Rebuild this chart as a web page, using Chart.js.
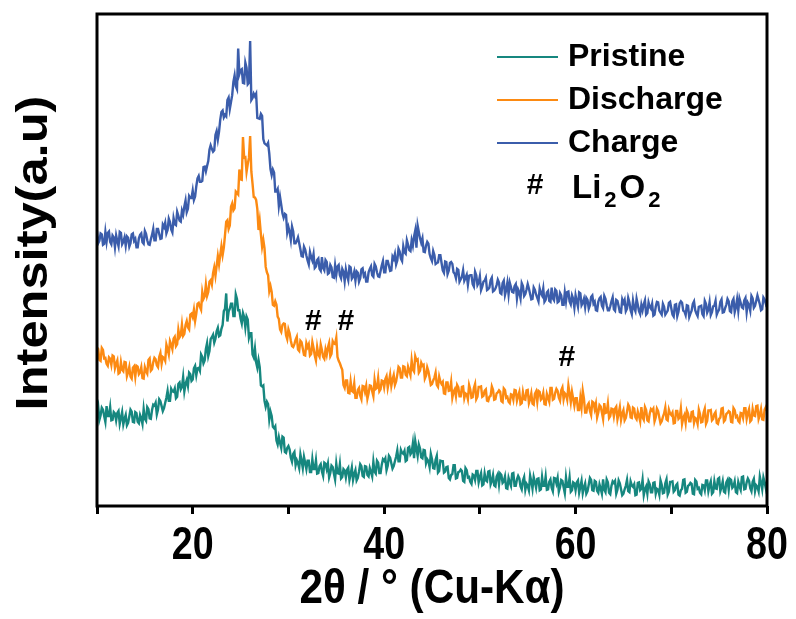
<!DOCTYPE html>
<html lang="en">
<head>
<meta charset="UTF-8">
<title>XRD patterns - Pristine / Discharge / Charge</title>
<script src="https://cdn.jsdelivr.net/npm/chart.js"></script>
<style>
  body { margin: 0; background: #fff; }
  #wrap { width: 796px; height: 619px; }
</style>
</head>
<body>
<div id="wrap"><canvas id="xrd" width="796" height="619"></canvas></div>
<script>
// scan grid: 2θ from 10° to 80°, 0.125° per step
const scanStart = 10;
const scanStep = 0.125;

const seriesNames = ['Pristine', 'Discharge', 'Charge'];
const seriesColors = ['#16877f', '#fc8a12', '#3b5dab'];

// intensities are offset-stacked (a.u.), one row of eight per degree
const pristine = [
  19.3, 20.3, 17.5, 18.4, 20.0, 19.6, 18.3, 17.1,
  20.3, 18.3, 18.3, 20.1, 17.4, 17.5, 19.1, 18.8,
  17.4, 18.9, 19.3, 16.7, 17.9, 19.1, 16.6, 17.7,
  18.5, 16.4, 16.9, 18.2, 19.6, 19.2, 17.1, 17.0,
  19.1, 18.9, 17.1, 16.8, 18.5, 17.8, 16.7, 19.7,
  17.7, 17.3, 20.1, 19.7, 17.8, 17.7, 19.5, 20.6,
  20.4, 21.0, 18.6, 19.6, 21.7, 21.3, 20.3, 19.3,
  19.9, 21.0, 22.0, 23.4, 21.4, 21.4, 23.8, 23.3,
  23.2, 23.9, 21.9, 22.2, 24.8, 25.1, 23.7, 24.2,
  26.2, 23.3, 24.8, 25.6, 24.4, 27.1, 26.8, 25.4,
  25.7, 28.0, 28.5, 26.6, 28.0, 28.1, 27.5, 30.8,
  30.3, 29.0, 29.6, 31.9, 33.1, 30.5, 31.5, 33.9,
  34.3, 34.8, 33.2, 34.0, 35.5, 36.2, 34.5, 34.7,
  36.0, 36.8, 39.6, 40.1, 43.2, 37.5, 39.5, 40.1,
  41.1, 41.1, 38.6, 38.6, 43.0, 42.1, 39.8, 39.8,
  38.1, 37.1, 39.2, 38.4, 36.3, 38.5, 37.9, 34.2,
  35.1, 35.1, 30.8, 30.2, 32.0, 29.2, 28.1, 29.7,
  28.2, 24.5, 24.3, 24.5, 21.4, 20.2, 21.2, 20.7,
  17.6, 19.2, 18.3, 16.1, 15.8, 16.2, 13.3, 12.5,
  14.0, 12.8, 11.8, 14.1, 13.9, 11.0, 10.8, 11.8,
  12.2, 11.5, 9.8, 9.0, 10.6, 11.0, 8.3, 9.3,
  8.7, 7.7, 10.5, 9.2, 7.7, 10.0, 8.8, 7.5,
  9.2, 9.2, 6.9, 6.9, 9.5, 7.5, 7.5, 9.3,
  6.6, 6.7, 8.1, 8.5, 7.0, 6.1, 8.8, 8.6,
  7.5, 8.6, 5.8, 6.7, 8.2, 7.9, 6.6, 5.4,
  8.6, 6.7, 6.6, 8.5, 5.6, 5.9, 7.5, 7.2,
  5.8, 7.4, 7.8, 5.3, 6.5, 7.8, 5.3, 6.5,
  7.3, 5.2, 5.7, 7.0, 8.5, 8.1, 6.1, 5.9,
  8.1, 8.0, 6.3, 6.0, 7.7, 6.9, 6.0, 9.0,
  7.0, 6.6, 9.2, 8.8, 6.7, 6.7, 8.4, 9.5,
  9.2, 9.7, 7.3, 8.2, 10.2, 9.8, 8.7, 7.6,
  8.1, 9.1, 10.0, 11.3, 9.1, 9.1, 11.4, 10.8,
  10.6, 11.2, 9.1, 9.3, 11.8, 12.0, 10.5, 10.9,
  12.7, 9.7, 13.2, 11.7, 10.2, 12.5, 11.7, 9.9,
  9.7, 11.4, 11.3, 8.7, 9.5, 9.1, 7.9, 10.6,
  9.5, 7.7, 7.6, 9.4, 10.2, 6.8, 7.1, 9.2,
  9.1, 9.1, 6.8, 7.0, 7.9, 8.0, 5.7, 5.4,
  6.3, 6.5, 8.3, 8.3, 5.6, 5.7, 6.9, 7.0,
  7.4, 7.1, 5.1, 4.9, 7.7, 7.3, 5.8, 5.9,
  4.9, 4.5, 6.4, 6.2, 5.3, 7.1, 7.1, 4.8,
  5.9, 6.7, 4.2, 4.4, 6.6, 5.2, 5.0, 7.0,
  7.1, 4.4, 5.1, 6.3, 4.2, 4.0, 6.0, 6.5,
  4.4, 6.6, 6.3, 4.7, 5.0, 6.0, 3.6, 3.5,
  5.7, 4.8, 4.1, 6.6, 6.7, 4.1, 4.1, 5.4,
  6.1, 5.6, 4.0, 3.4, 5.2, 5.9, 3.3, 4.5,
  4.1, 3.2, 6.2, 5.0, 3.5, 5.9, 4.9, 3.7,
  5.5, 5.6, 3.2, 3.4, 5.9, 4.1, 4.1, 6.0,
  3.3, 3.4, 4.9, 5.4, 3.7, 3.0, 5.7, 5.6,
  4.6, 5.7, 2.9, 3.8, 5.3, 5.1, 3.8, 2.6,
  5.8, 3.9, 3.9, 5.8, 2.9, 3.2, 4.8, 4.6,
  3.2, 4.8, 5.2, 2.7, 3.9, 5.1, 2.6, 3.8,
  4.6, 2.5, 3.0, 4.3, 5.7, 5.3, 3.2, 3.1,
  5.1, 4.9, 3.1, 2.7, 4.4, 3.5, 2.5, 5.4,
  3.3, 2.8, 5.4, 4.8, 2.7, 2.4, 4.1, 5.0,
  4.7, 5.1, 2.5, 3.3, 5.2, 4.6, 3.4, 2.2,
  2.5, 3.4, 4.1, 5.3, 3.0, 2.8, 5.0, 4.2,
  3.9, 4.4, 2.2, 2.3, 4.7, 4.8, 3.2, 3.5,
  5.3, 2.2, 3.4, 4.0, 2.5, 5.0, 4.4, 2.8,
  2.8, 4.7, 4.8, 2.5, 3.5, 3.3, 2.3, 5.2,
  4.3, 2.6, 2.7, 4.6, 5.4, 2.3, 2.9, 4.9,
  4.9, 5.0, 2.9, 3.2, 4.2, 4.5, 2.3, 2.1,
  3.2, 3.5, 5.3, 5.4, 2.7, 2.9, 4.1, 4.3,
  4.7, 4.5, 2.5, 2.4, 5.3, 5.0, 3.5, 3.7,
  2.7, 2.4, 4.3, 4.2, 3.2, 5.2, 5.2, 3.0,
  4.2, 5.0, 2.5, 2.8, 5.0, 3.6, 3.5, 5.5,
  5.7, 3.0, 3.8, 5.0, 2.9, 2.7, 4.8, 5.3,
  3.3, 5.5, 5.3, 3.7, 4.0, 5.0, 2.8, 2.6,
  4.9, 4.0, 3.3, 5.9, 6.0, 3.4, 3.5, 4.8,
  5.6, 5.1, 3.6, 3.0, 4.9, 5.5, 3.0, 4.2,
  3.9, 3.0, 6.0, 4.8, 3.4, 5.8, 4.8, 3.6,
  4.9
];

const discharge = [
  32.2, 31.9, 29.7, 29.5, 32.1, 31.7, 30.0, 30.1,
  28.9, 28.5, 30.2, 29.9, 28.7, 30.6, 30.4, 28.0,
  28.9, 29.6, 26.9, 27.1, 29.2, 27.7, 27.4, 29.3,
  29.2, 26.4, 27.2, 28.3, 26.3, 25.9, 28.1, 28.4,
  26.3, 28.5, 28.3, 26.8, 27.2, 28.2, 26.0, 25.9,
  28.2, 27.4, 26.9, 29.7, 30.0, 27.5, 27.8, 29.2,
  30.1, 29.8, 28.6, 28.2, 30.3, 31.1, 28.9, 30.3,
  30.1, 29.5, 32.8, 31.9, 30.8, 33.5, 32.8, 31.9,
  34.0, 34.4, 32.5, 32.9, 35.8, 34.3, 34.7, 36.9,
  34.6, 35.0, 36.8, 37.6, 36.3, 35.9, 38.9, 39.1,
  38.4, 39.9, 37.6, 39.1, 41.1, 41.3, 40.5, 39.9,
  43.5, 42.1, 42.6, 45.0, 42.7, 43.5, 45.6, 45.9,
  45.0, 47.3, 48.5, 46.8, 48.8, 50.8, 49.1, 51.0,
  52.8, 51.0, 52.5, 55.1, 57.8, 58.1, 56.3, 57.0,
  60.8, 61.5, 60.1, 60.5, 63.9, 63.6, 63.3, 68.4,
  66.4, 66.3, 75.0, 70.8, 70.9, 67.9, 69.5, 70.8,
  75.2, 68.0, 65.5, 62.8, 62.7, 62.2, 60.4, 56.1,
  58.0, 55.2, 52.7, 54.1, 52.4, 48.6, 47.5, 46.9,
  43.7, 44.7, 43.5, 40.9, 40.7, 41.6, 40.9, 38.5,
  38.0, 35.9, 35.4, 36.8, 37.1, 37.0, 34.7, 33.9,
  35.9, 35.1, 33.6, 32.5, 32.3, 32.9, 33.8, 34.4,
  31.8, 31.5, 33.6, 33.3, 32.0, 30.7, 30.6, 33.1,
  32.3, 32.9, 30.6, 30.9, 33.3, 32.1, 30.6, 29.6,
  32.3, 30.8, 30.3, 32.8, 31.7, 30.3, 29.9, 31.8,
  30.7, 32.2, 33.1, 30.4, 30.9, 33.5, 33.0, 32.9,
  34.2, 30.3, 29.5, 29.0, 28.3, 27.7, 24.6, 24.0,
  25.5, 25.5, 23.0, 22.9, 25.3, 23.4, 23.2, 24.9,
  22.0, 22.0, 23.6, 24.0, 22.4, 21.7, 24.4, 24.3,
  23.2, 24.4, 21.8, 22.9, 24.5, 24.4, 23.3, 22.3,
  25.6, 23.8, 24.0, 26.0, 23.3, 23.7, 25.5, 25.4,
  24.1, 25.8, 26.4, 24.0, 25.3, 26.7, 24.4, 25.7,
  26.6, 24.6, 25.3, 26.7, 28.3, 28.0, 26.1, 26.1,
  28.4, 28.3, 26.7, 26.4, 28.3, 27.5, 26.6, 29.6,
  27.7, 27.3, 30.4, 29.6, 29.8, 27.1, 27.5, 29.1,
  28.5, 28.7, 25.9, 26.5, 28.2, 27.4, 26.0, 24.6,
  24.8, 25.5, 26.1, 27.1, 24.6, 24.2, 26.3, 25.3,
  24.8, 25.2, 22.9, 22.8, 25.1, 25.1, 23.4, 23.5,
  25.2, 22.0, 23.2, 23.7, 22.3, 24.6, 24.1, 22.3,
  22.3, 24.2, 24.3, 21.9, 22.9, 22.7, 21.7, 24.6,
  23.7, 22.0, 22.1, 24.0, 24.8, 21.7, 22.2, 24.2,
  24.2, 24.3, 22.2, 22.4, 23.4, 23.7, 21.4, 21.3,
  22.2, 22.4, 24.3, 23.6, 21.6, 21.7, 22.9, 23.1,
  23.5, 23.2, 21.3, 21.1, 23.9, 23.6, 22.0, 22.2,
  21.2, 20.9, 22.7, 22.6, 21.6, 23.6, 23.5, 21.4,
  22.4, 23.2, 20.7, 20.9, 23.1, 21.7, 21.6, 23.5,
  23.6, 20.9, 21.7, 22.9, 20.8, 20.6, 22.8, 23.3,
  21.2, 23.4, 23.2, 21.6, 21.9, 23.0, 20.7, 20.6,
  22.8, 22.0, 21.2, 24.0, 24.0, 21.6, 21.8, 23.0,
  23.8, 23.4, 22.0, 21.4, 23.5, 24.1, 21.7, 22.9,
  22.6, 21.6, 24.5, 22.9, 21.1, 23.2, 21.8, 20.4,
  21.9, 21.9, 19.5, 19.5, 22.0, 20.1, 23.4, 21.8,
  19.0, 19.0, 20.5, 20.9, 19.3, 18.5, 21.2, 21.0,
  19.7, 20.8, 18.0, 19.0, 20.5, 20.2, 19.0, 17.7,
  20.9, 18.9, 19.0, 20.8, 17.9, 18.3, 19.8, 19.7,
  18.2, 19.8, 20.2, 17.6, 18.8, 20.1, 17.5, 18.8,
  19.5, 17.4, 17.9, 19.2, 20.6, 20.1, 18.0, 17.9,
  20.0, 19.8, 18.0, 17.6, 19.2, 18.3, 17.2, 20.1,
  18.0, 17.5, 20.1, 19.5, 17.4, 17.2, 18.8, 19.7,
  19.4, 19.8, 17.2, 18.0, 19.8, 19.3, 18.0, 16.8,
  17.2, 18.1, 18.8, 20.0, 17.6, 17.4, 19.6, 18.8,
  18.5, 19.0, 16.8, 16.9, 19.3, 19.3, 17.7, 18.0,
  19.8, 16.7, 17.9, 18.5, 16.9, 19.4, 18.8, 17.2,
  17.2, 19.1, 19.2, 16.9, 17.9, 17.7, 16.7, 19.6,
  18.7, 17.0, 17.1, 19.0, 19.8, 16.7, 17.3, 19.4,
  19.4, 19.5, 17.4, 17.7, 18.7, 19.1, 16.9, 16.7,
  17.7, 18.0, 19.8, 19.9, 17.2, 17.5, 18.7, 18.9,
  19.3, 19.1, 17.1, 17.0, 19.9, 19.5, 18.1, 18.3,
  17.3, 17.0, 18.9, 18.8, 17.9, 19.9, 19.9, 17.7,
  18.9, 19.7, 17.2, 17.5, 19.7, 18.4, 18.3, 20.3,
  20.4, 17.7, 18.5, 19.7, 17.6, 17.5, 19.6, 20.1,
  19.4
];

const charge = [
  55.9, 53.4, 53.9, 55.4, 55.2, 53.1, 53.3, 55.7,
  53.7, 55.5, 55.8, 53.7, 53.2, 55.0, 54.6, 52.6,
  55.0, 53.8, 52.8, 55.7, 55.5, 53.2, 53.7, 54.6,
  52.9, 54.8, 54.5, 52.7, 53.4, 55.2, 55.4, 53.9,
  54.3, 52.6, 52.6, 54.4, 55.1, 55.4, 53.6, 53.3,
  55.9, 55.3, 54.0, 53.2, 53.1, 54.2, 55.1, 56.3,
  54.0, 54.0, 56.3, 56.3, 55.3, 54.3, 54.4, 57.2,
  56.7, 57.6, 55.4, 56.1, 58.4, 57.7, 56.2, 55.6,
  58.5, 57.3, 57.1, 59.8, 59.0, 58.0, 57.8, 60.0,
  59.2, 60.9, 62.1, 59.7, 60.4, 63.0, 62.6, 62.6,
  64.1, 62.2, 62.9, 65.0, 66.6, 67.1, 65.9, 65.9,
  66.1, 68.9, 69.0, 68.0, 69.1, 70.1, 72.4, 73.3,
  72.6, 72.0, 72.3, 75.4, 76.2, 74.5, 76.1, 78.5,
  80.1, 80.4, 79.0, 79.5, 79.2, 82.5, 83.0, 80.7,
  82.1, 83.5, 86.2, 87.5, 85.3, 84.7, 93.0, 87.8,
  88.6, 88.8, 86.0, 85.9, 90.1, 89.1, 85.7, 86.0,
  94.5, 82.5, 82.9, 83.8, 83.3, 83.8, 78.9, 78.8,
  78.7, 79.7, 79.3, 74.6, 73.7, 73.5, 73.3, 73.8,
  71.6, 68.5, 67.3, 68.4, 67.8, 63.9, 63.9, 64.4,
  61.0, 62.8, 61.2, 59.5, 58.6, 59.4, 59.2, 55.6,
  56.7, 55.7, 54.1, 56.8, 55.8, 53.4, 53.4, 53.9,
  54.6, 53.4, 52.2, 50.8, 50.7, 52.7, 52.1, 50.9,
  49.9, 49.1, 51.6, 50.6, 49.9, 51.2, 48.4, 48.7,
  50.0, 50.3, 48.2, 47.8, 50.6, 48.4, 47.9, 50.0,
  49.6, 47.2, 47.4, 49.0, 48.5, 46.5, 46.4, 48.9,
  47.0, 48.7, 49.0, 46.9, 46.3, 48.2, 47.6, 45.7,
  48.1, 46.8, 45.9, 48.7, 48.5, 46.2, 46.6, 47.6,
  45.8, 47.7, 47.4, 45.6, 46.3, 48.1, 48.3, 46.8,
  47.2, 45.6, 45.6, 47.5, 48.2, 48.7, 46.9, 46.6,
  49.2, 48.7, 47.5, 46.7, 46.6, 47.7, 48.9, 49.8,
  47.5, 47.5, 49.8, 49.8, 48.8, 47.8, 47.9, 50.7,
  50.2, 51.2, 49.1, 49.9, 52.3, 51.7, 50.3, 49.8,
  52.8, 51.6, 51.3, 54.0, 53.1, 52.0, 51.8, 54.0,
  52.9, 54.8, 56.0, 52.5, 57.0, 55.7, 54.4, 53.5,
  54.4, 51.7, 51.6, 52.9, 53.7, 53.3, 51.2, 50.4,
  49.8, 51.8, 51.0, 49.2, 49.4, 49.5, 51.0, 51.0,
  49.4, 47.9, 47.4, 49.7, 49.6, 47.1, 47.8, 49.4,
  49.6, 49.2, 47.5, 47.2, 46.3, 48.2, 48.0, 45.6,
  46.1, 46.6, 47.9, 45.8, 46.4, 47.0, 45.0, 46.8,
  46.9, 46.9, 45.1, 44.6, 47.6, 46.9, 44.9, 45.4,
  46.7, 43.9, 44.6, 45.6, 45.8, 46.4, 43.9, 44.1,
  44.4, 45.9, 46.4, 43.6, 43.8, 44.2, 44.9, 46.0,
  45.4, 43.3, 43.1, 45.3, 45.8, 42.9, 43.9, 45.4,
  43.0, 45.4, 44.5, 43.5, 43.4, 44.7, 45.1, 42.2,
  44.0, 43.4, 42.2, 45.3, 44.7, 42.7, 43.1, 44.0,
  45.1, 44.2, 43.1, 42.0, 42.1, 44.4, 43.9, 43.0,
  42.3, 41.6, 44.2, 43.3, 42.8, 44.2, 41.5, 41.9,
  43.4, 43.7, 41.7, 41.5, 44.4, 42.2, 41.8, 44.0,
  43.7, 41.4, 41.6, 43.3, 42.8, 40.9, 40.9, 43.4,
  41.6, 43.5, 43.6, 41.6, 41.0, 42.8, 42.1, 40.3,
  42.8, 41.6, 40.5, 43.4, 43.2, 40.8, 41.3, 42.1,
  40.4, 42.3, 41.9, 40.1, 40.8, 42.5, 42.8, 41.1,
  41.5, 39.8, 39.7, 41.5, 42.2, 42.5, 40.7, 40.2,
  42.7, 42.1, 40.8, 39.8, 39.8, 40.6, 41.6, 42.4,
  40.0, 39.7, 41.9, 41.7, 40.6, 39.4, 39.3, 42.0,
  41.3, 41.9, 39.6, 40.1, 42.3, 41.4, 39.8, 39.0,
  41.7, 40.2, 39.6, 42.1, 40.9, 39.6, 39.0, 40.9,
  39.8, 41.0, 41.8, 38.9, 39.2, 41.4, 40.5, 40.1,
  41.1, 38.7, 38.9, 40.5, 41.5, 41.4, 39.7, 39.3,
  38.9, 41.1, 40.5, 38.9, 39.3, 39.7, 41.3, 41.5,
  40.2, 38.9, 38.5, 40.9, 41.0, 38.6, 39.5, 41.2,
  41.6, 41.3, 39.7, 39.5, 38.8, 40.8, 40.7, 38.4,
  39.1, 39.7, 41.1, 41.6, 39.8, 39.1, 38.6, 40.5,
  40.6, 40.7, 39.0, 38.6, 41.7, 41.1, 39.3, 39.9,
  41.4, 38.8, 39.4, 40.6, 40.7, 41.7, 38.9, 39.5,
  39.9, 41.5, 42.0, 39.3, 39.4, 40.2, 40.9, 42.1,
  41.6, 39.6, 39.4, 41.6, 42.1, 39.4, 40.4, 42.0,
  39.7, 42.2, 41.3, 40.4, 40.2, 41.8, 42.3, 39.4,
  41.3, 40.8, 39.7, 42.7, 42.2, 40.3, 40.7, 41.7,
  42.8, 41.9, 41.0, 39.8, 40.0, 42.4, 42.0, 41.1,
  41.8
];

// Li2O2 reflections marked with '#'
const li2o2Angles = [32.6, 36.0, 59.1];
const li2o2Levels = [37.4, 37.4, 30.1];

const xTicks = [10, 20, 30, 40, 50, 60, 70, 80];
const xTickLabels = [20, 40, 60, 80];

const face = "'Liberation Sans', Arial, sans-serif";

function toPoints(values) {
  return values.map((v, i) => ({ x: scanStart + i * scanStep, y: v }));
}

const seriesValues = [pristine, discharge, charge];
const datasets = seriesNames.map((name, i) => ({
  label: name,
  data: toPoints(seriesValues[i]),
  borderColor: seriesColors[i],
  borderWidth: 2.4,
  pointRadius: 0,
  tension: 0,
  fill: false
}));

// squeezed bold text, like the Arial Narrow labels of the original plot
function narrowText(ctx, text, x, y, size, squeeze, rotate) {
  ctx.save();
  ctx.translate(x, y);
  if (rotate) ctx.rotate(-Math.PI / 2);
  ctx.scale(squeeze, 1);
  ctx.font = 'bold ' + size + 'px ' + face;
  ctx.fillText(text, 0, 0);
  ctx.restore();
}

// black box round the plot area
const framePlugin = {
  id: 'frame',
  afterDatasetsDraw(chart) {
    const { ctx, chartArea: a } = chart;
    ctx.save();
    ctx.strokeStyle = '#000';
    ctx.lineWidth = 3;
    ctx.strokeRect(a.left, a.top, a.right - a.left, a.bottom - a.top);
    ctx.restore();
  }
};

// axis text, '#' marks over the Li2O2 peaks and the legend block
const notesPlugin = {
  id: 'notes',
  afterDraw(chart) {
    const { ctx, scales, chartArea: a } = chart;
    ctx.save();
    ctx.fillStyle = '#000';
    ctx.textAlign = 'center';
    ctx.textBaseline = 'middle';

    xTickLabels.forEach(v => {
      narrowText(ctx, String(v), scales.x.getPixelForValue(v), 546, 47, 0.8, false);
    });
    narrowText(ctx, '2θ / ° (Cu-Kα)', (a.left + a.right) / 2, 590, 48, 0.88, false);
    narrowText(ctx, 'Intensity(a.u)', 35, 253, 44, 1.15, true);

    ctx.font = 'bold 30px ' + face;
    li2o2Angles.forEach((ang, i) => {
      ctx.fillText('#', scales.x.getPixelForValue(ang), scales.y.getPixelForValue(li2o2Levels[i]));
    });

    ctx.textAlign = 'left';
    ctx.font = 'bold 32px ' + face;
    chart.data.datasets.forEach((ds, i) => {
      const y = 57 + i * 43;
      ctx.strokeStyle = ds.borderColor;
      ctx.lineWidth = 2;
      ctx.beginPath();
      ctx.moveTo(497, y);
      ctx.lineTo(558, y);
      ctx.stroke();
      ctx.fillText(ds.label, 568, y);
    });

    const ly = 186;
    ctx.textAlign = 'center';
    ctx.font = 'bold 30px ' + face;
    ctx.fillText('#', 535, ly);
    ctx.textAlign = 'left';
    ctx.textBaseline = 'alphabetic';
    let x = 572;
    const base = ly + 12;
    const parts = [['Li', 33, 0], ['2', 22, 9], ['O', 33, 0], ['2', 22, 9]];
    parts.forEach(([t, size, drop]) => {
      ctx.font = 'bold ' + size + 'px ' + face;
      ctx.fillText(t, x, base + drop);
      x += ctx.measureText(t).width + 3;
    });
    ctx.restore();
  }
};

const ctx = document.getElementById('xrd').getContext('2d');
new Chart(ctx, {
  type: 'line',
  data: { datasets },
  plugins: [framePlugin, notesPlugin],
  options: {
    responsive: false,
    animation: false,
    layout: { padding: { top: 14, right: 29, left: 97, bottom: 0 } },
    plugins: {
      legend: { display: false },
      tooltip: { enabled: false }
    },
    scales: {
      x: {
        type: 'linear',
        min: 10,
        max: 80,
        afterBuildTicks(scale) {
          scale.ticks = xTicks.map(v => ({ value: v }));
        },
        afterFit(scale) { scale.height = 113; },
        border: { display: false },
        grid: {
          drawOnChartArea: false,
          drawTicks: true,
          tickLength: 8,
          tickWidth: 3,
          tickColor: '#000'
        },
        ticks: { display: false }
      },
      y: {
        display: false,
        min: 0,
        max: 100
      }
    }
  }
});
</script>
</body>
</html>
